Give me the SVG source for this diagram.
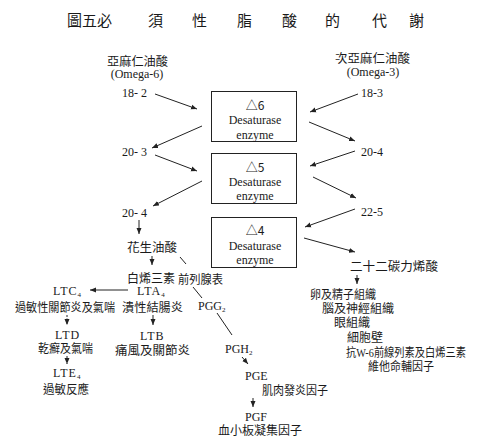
<svg xmlns="http://www.w3.org/2000/svg" width="498" height="437" viewBox="0 0 498 437">
<style>
.c{font-family:"Noto Sans CJK TC","Noto Sans CJK SC",sans-serif;font-size:12px;fill:#1a1a1a}
.t{font-family:"Noto Sans CJK TC","Noto Sans CJK SC",sans-serif;font-size:15px;fill:#1a1a1a}
.s{font-family:"Liberation Serif",serif;font-size:12px;fill:#1a1a1a}
.sub{font-size:7px}
.box{fill:#fff;stroke:#222;stroke-width:1}
.ln{stroke:#222;stroke-width:1;fill:none}
.ar{stroke:#222;stroke-width:1;fill:none;marker-end:url(#ah)}
.dar{stroke:#222;stroke-width:1;fill:none;stroke-dasharray:2,1.5;marker-end:url(#ah)}
</style>
<defs>
<marker id="ah" markerWidth="6" markerHeight="6" refX="6" refY="3" orient="auto" markerUnits="userSpaceOnUse">
<path d="M0,0.5 L6,3 L0,5.5 z" fill="#222"/>
</marker>
</defs>
<rect width="498" height="437" fill="#fff"/>
<g id="title">
<text class="t" x="67" y="26">圖五必</text>
<text class="t" x="148" y="26">須</text>
<text class="t" x="192" y="26">性</text>
<text class="t" x="237" y="26">脂</text>
<text class="t" x="282" y="26">酸</text>
<text class="t" x="325" y="26">的</text>
<text class="t" x="372" y="26">代</text>
<text class="t" x="409" y="26">謝</text>
</g>
<g id="omega6">
<text class="c" x="107" y="66" textLength="61" lengthAdjust="spacingAndGlyphs">亞麻仁油酸</text>
<text class="s" x="137" y="78" text-anchor="middle">(Omega-6)</text>
</g>
<g id="omega3">
<text class="c" x="335" y="63" textLength="75" lengthAdjust="spacingAndGlyphs">次亞麻仁油酸</text>
<text class="s" x="373" y="76" text-anchor="middle">(Omega-3)</text>
</g>
<g id="n18-2"><text class="s" x="122" y="97">18- 2</text></g>
<g id="n20-3"><text class="s" x="122" y="156">20- 3</text></g>
<g id="n20-4L"><text class="s" x="122" y="217">20- 4</text></g>
<g id="n18-3"><text class="s" x="361" y="97">18-3</text></g>
<g id="n20-4R"><text class="s" x="361" y="156">20-4</text></g>
<g id="n22-5"><text class="s" x="361" y="216">22-5</text></g>
<g id="d6">
<rect class="box" x="211.5" y="91.5" width="85" height="50"/>
<text class="c" x="255" y="110" text-anchor="middle">△6</text>
<text class="s" x="255" y="124" text-anchor="middle">Desaturase</text>
<text class="s" x="255" y="139" text-anchor="middle">enzyme</text>
</g>
<g id="d5">
<rect class="box" x="211.5" y="153.5" width="85" height="50"/>
<text class="c" x="255" y="172" text-anchor="middle">△5</text>
<text class="s" x="255" y="186" text-anchor="middle">Desaturase</text>
<text class="s" x="255" y="200" text-anchor="middle">enzyme</text>
</g>
<g id="d4">
<rect class="box" x="211.5" y="217.5" width="85" height="50"/>
<text class="c" x="255" y="235" text-anchor="middle">△4</text>
<text class="s" x="255" y="250" text-anchor="middle">Desaturase</text>
<text class="s" x="255" y="264" text-anchor="middle">enzyme</text>
</g>
<g id="aa"><text class="c" x="127" y="252" textLength="50" lengthAdjust="spacingAndGlyphs">花生油酸</text></g>
<g id="lt"><text class="c" x="127" y="283" textLength="48" lengthAdjust="spacingAndGlyphs">白烯三素</text></g>
<g id="pg"><text class="c" x="178" y="284" font-size="11" textLength="45" lengthAdjust="spacingAndGlyphs">前列腺表</text></g>
<g id="ltc4">
<text class="s" x="53" y="295" letter-spacing="1">LTC<tspan class="sub" dy="2">4</tspan></text>
<text class="c" x="15" y="312" textLength="100" lengthAdjust="spacingAndGlyphs">過敏性關節炎及氣喘</text>
</g>
<g id="lta4">
<text class="s" x="137" y="295" letter-spacing="1">LTA<tspan class="sub" dy="2">4</tspan></text>
<text class="c" x="122" y="312" textLength="61" lengthAdjust="spacingAndGlyphs">潰性結腸炎</text>
</g>
<g id="ltd">
<text class="s" x="55" y="339" letter-spacing="1">LTD</text>
<text class="c" x="38" y="353" textLength="55" lengthAdjust="spacingAndGlyphs">乾癬及氣喘</text>
</g>
<g id="lte4">
<text class="s" x="53" y="377" letter-spacing="1">LTE<tspan class="sub" dy="2">4</tspan></text>
<text class="c" x="43" y="394" textLength="46" lengthAdjust="spacingAndGlyphs">過敏反應</text>
</g>
<g id="ltb">
<text class="s" x="140" y="340" letter-spacing="1">LTB</text>
<text class="c" x="115" y="355" textLength="75" lengthAdjust="spacingAndGlyphs">痛風及關節炎</text>
</g>
<g id="pgg2"><text class="s" x="198" y="310">PGG<tspan class="sub" dy="2">2</tspan></text></g>
<g id="pgh2"><text class="s" x="225" y="353">PGH<tspan class="sub" dy="2">2</tspan></text></g>
<g id="pge">
<text class="s" x="245" y="380">PGE</text>
<text class="c" x="262" y="395" textLength="66" lengthAdjust="spacingAndGlyphs">肌肉發炎因子</text>
</g>
<g id="pgf">
<text class="s" x="245" y="421">PGF</text>
<text class="c" x="218" y="435" textLength="84" lengthAdjust="spacingAndGlyphs">血小板凝集因子</text>
</g>
<g id="dha"><text class="c" x="350" y="271" textLength="88" lengthAdjust="spacingAndGlyphs">二十二碳力烯酸</text></g>
<g id="tissues">
<text class="c" x="310" y="299" textLength="66" lengthAdjust="spacingAndGlyphs">卵及精子組織</text>
<text class="c" x="322" y="313" textLength="72" lengthAdjust="spacingAndGlyphs">腦及神經組織</text>
<text class="c" x="334" y="327">眼組織</text>
<text class="c" x="347" y="342">細胞壁</text>
<text class="c" x="346" y="357" font-size="11" textLength="120" lengthAdjust="spacingAndGlyphs">抗<tspan class="s" font-size="11">W-6</tspan>前線列素及白烯三素</text>
<text class="c" x="368" y="371" textLength="66" lengthAdjust="spacingAndGlyphs">維他命輔因子</text>
</g>
<g id="connectors">
<path class="ar" d="M155,94 L197,109"/>
<path class="ar" d="M202,126 L152,148"/>
<path class="ar" d="M155,155 L197,171"/>
<path class="ar" d="M202,181 L153,206"/>
<path class="ar" d="M139,220 L139,234"/>
<path class="ar" d="M358,94 L310,112"/>
<path class="ar" d="M309,122 L355,141"/>
<path class="ar" d="M355,151 L310,166"/>
<path class="ar" d="M313,177 L356,198"/>
<path class="ar" d="M355,209 L305,227"/>
<path class="ar" d="M304,238 L355,252"/>
<path class="ar" d="M357,275 L357,284"/>
<path class="ar" d="M152,256 L152,265"/>
<path class="ln" d="M180,257 L186,264"/>
<path class="ar" d="M128,290 L90,290"/>
<path class="dar" d="M67,315 L67,325"/>
<path class="dar" d="M67,356 L67,364"/>
<path class="ar" d="M153,315 L153,325"/>
<path class="ln" d="M193,287 L202,298"/>
<path class="ln" d="M217,313 L232,335"/>
<path class="ar" d="M242,357 L248,364"/>
<path class="ar" d="M253,398 L253,407"/>
</g>
</svg>
